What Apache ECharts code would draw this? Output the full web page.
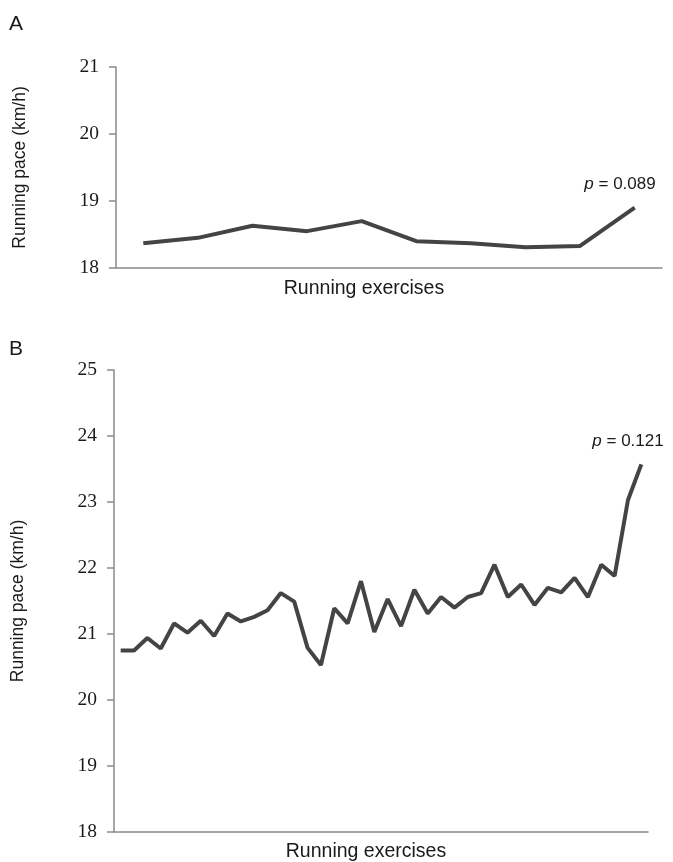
<!DOCTYPE html>
<html>
<head>
<meta charset="utf-8">
<script src="https://cdn.jsdelivr.net/npm/echarts@6/dist/echarts.min.js"></script>
<style>
  html, body { margin: 0; padding: 0; background: #fff; }
  #chart { width: 673px; height: 862px; }
</style>
</head>
<body>
<div id="chart"></div>
<script>
// panel A: 10 exercises
const paceA = [18.37, 18.45, 18.63, 18.55, 18.70, 18.40, 18.37, 18.31, 18.33, 18.90]
// panel B: 40 exercises
const paceB = [
  20.75, 20.75, 20.94, 20.78, 21.16, 21.02, 21.20, 20.97, 21.31, 21.19,
  21.26, 21.36, 21.62, 21.49, 20.79, 20.53, 21.39, 21.16, 21.80, 21.03,
  21.53, 21.12, 21.67, 21.31, 21.56, 21.40, 21.56, 21.62, 22.05, 21.56,
  21.75, 21.44, 21.70, 21.63, 21.85, 21.56, 22.05, 21.88, 23.03, 23.57
]
const exercisesA = paceA.map((_, i) => i + 1)
const exercisesB = paceB.map((_, i) => i + 1)
const pLabelA = '0.089'
const pLabelB = '0.121'

const chart = echarts.init(document.getElementById('chart'), null, { renderer: 'canvas' })

const lineColor = '#444'
const axisColor = '#8a8a8a'
const textColor = '#1a1a1a'

function yAxis(gridIndex, min, max) {
  return {
    type: 'value',
    gridIndex,
    min,
    max,
    interval: 1,
    name: 'Running pace (km/h)',
    nameLocation: 'middle',
    nameGap: 87,
    nameTextStyle: { fontFamily: 'Liberation Sans', fontSize: 17.5, color: textColor },
    axisLine: { show: true, lineStyle: { color: axisColor, width: 1.5 } },
    axisTick: { show: true, length: 7, lineStyle: { color: axisColor, width: 1.5 } },
    axisLabel: { margin: 17, fontFamily: 'Liberation Serif', fontSize: 19.5, color: textColor },
    splitLine: { show: false }
  }
}

function xAxis(gridIndex, data) {
  return {
    type: 'category',
    gridIndex,
    data,
    boundaryGap: true,
    axisLine: { show: true, lineStyle: { color: axisColor, width: 1.5 } },
    axisTick: { show: false },
    axisLabel: { show: false },
    splitLine: { show: false }
  }
}

function text(x, y, str, size, extra) {
  return Object.assign({
    type: 'text',
    x,
    y,
    style: {
      text: str,
      fontFamily: 'Liberation Sans',
      fontSize: size,
      fill: textColor,
      align: 'center',
      verticalAlign: 'middle'
    }
  }, extra || {})
}

function pText(x, y, p) {
  return {
    type: 'text',
    x,
    y,
    style: {
      text: '{i|p} = ' + p,
      fontFamily: 'Liberation Sans',
      fontSize: 17,
      fill: textColor,
      align: 'center',
      verticalAlign: 'middle',
      rich: { i: { fontStyle: 'italic', fontFamily: 'Liberation Sans', fontSize: 17, fill: textColor } }
    }
  }
}

chart.setOption({
  animation: false,
  backgroundColor: '#fff',
  graphic: [
    text(16, 24, 'A', 21),
    text(16, 349, 'B', 21),
    text(364, 289, 'Running exercises', 19.5),
    text(366, 852, 'Running exercises', 19.5),
    pText(620, 184, pLabelA),
    pText(628, 441, pLabelB)
  ],
  grid: [
    { left: 116, right: 11, top: 67, bottom: 594 },
    { left: 114, right: 25, top: 370, bottom: 30 }
  ],
  xAxis: [xAxis(0, exercisesA), xAxis(1, exercisesB)],
  yAxis: [yAxis(0, 18, 21), yAxis(1, 18, 25)],
  series: [
    {
      type: 'line',
      xAxisIndex: 0,
      yAxisIndex: 0,
      data: paceA,
      showSymbol: false,
      lineStyle: { color: lineColor, width: 4 },
      itemStyle: { color: lineColor }
    },
    {
      type: 'line',
      xAxisIndex: 1,
      yAxisIndex: 1,
      data: paceB,
      showSymbol: false,
      lineStyle: { color: lineColor, width: 4 },
      itemStyle: { color: lineColor }
    }
  ]
})
</script>
</body>
</html>
